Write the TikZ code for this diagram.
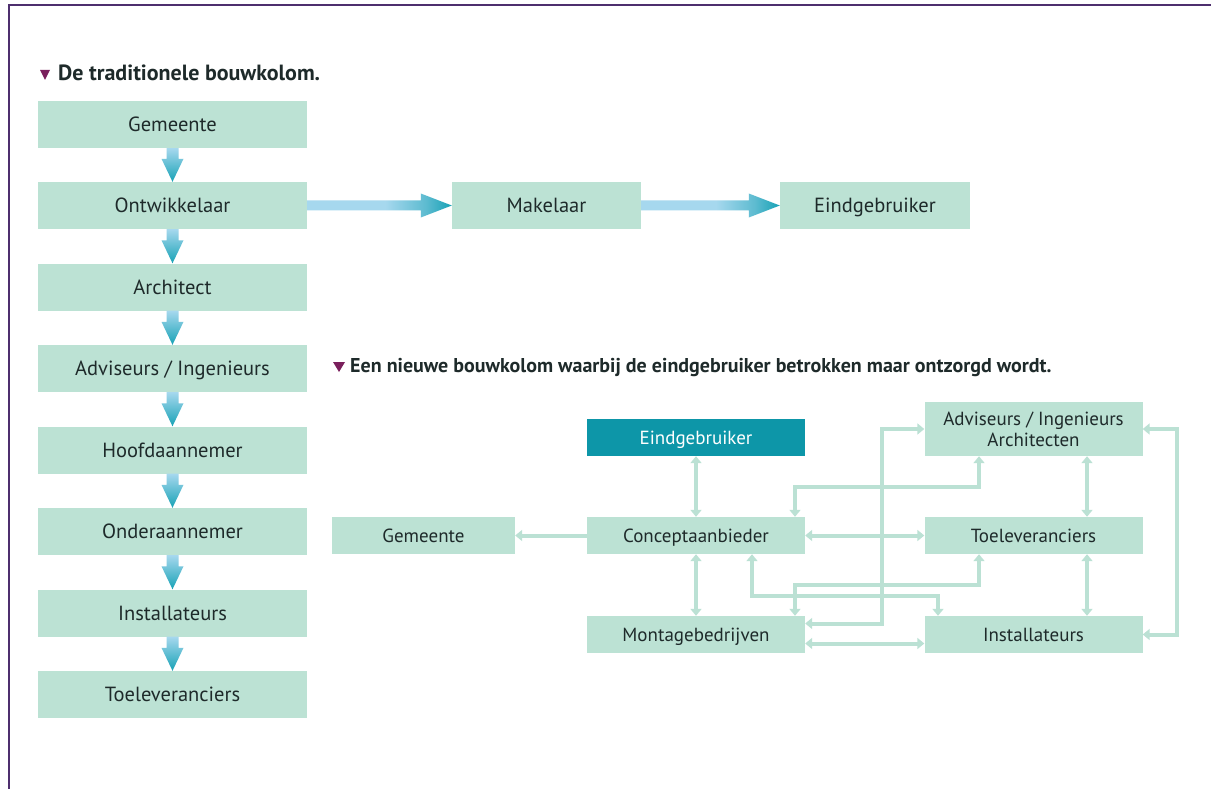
\documentclass[tikz,border=0pt]{standalone}
\usepackage{fontspec}
\setmainfont{PT Sans}
\usetikzlibrary{arrows.meta,calc}
\definecolor{boxfill}{HTML}{BCE2D4}
\definecolor{linec}{HTML}{BBE1D4}
\definecolor{darkbox}{HTML}{0D96A8}
\definecolor{txt}{HTML}{1E2A2A}
\definecolor{framec}{HTML}{4E2F6E}
\definecolor{tri}{HTML}{7A1F5C}
\definecolor{gl}{HTML}{A6D8EE}
\definecolor{gm}{HTML}{5DBBD0}
\definecolor{gd}{HTML}{17A2B6}
\pgfdeclarehorizontalshading{harrow}{100bp}{color(0bp)=(gl); color(25bp)=(gl); color(52bp)=(gl); color(66bp)=(gm); color(75bp)=(gd); color(100bp)=(gd)}
\newcommand\myvarrow[2]{\shade[top color=gl, bottom color=gd] ($(#1.south)+(-6,0)$) -- ($(#1.south)+(6,0)$) -- ($(#2.north)+(6,-23)$) -- ($(#2.north)+(11,-23)$) -- (#2.north) -- ($(#2.north)+(-11,-23)$) -- ($(#2.north)+(-6,-23)$) -- cycle;}
\newcommand\myharrow[2]{\shade[shading=harrow] ($(#1.east)+(0,-5)$) -- ($(#2.west)+(-31,-5)$) -- ($(#2.west)+(-31,-12)$) -- (#2.west) -- ($(#2.west)+(-31,12)$) -- ($(#2.west)+(-31,5)$) -- ($(#1.east)+(0,5)$) -- cycle;}
\begin{document}
\begin{tikzpicture}[x=1pt,y=-1pt,
  lbox/.style={fill=boxfill, minimum width=269pt, minimum height=47pt, inner sep=0pt, text=txt, font=\fontsize{20.5}{24}\selectfont, text height=14.4pt, text depth=0pt},
  rbox/.style={fill=boxfill, minimum width=218pt, minimum height=37pt, inner sep=0pt, text=txt, font=\fontsize{19}{22}\selectfont, text height=13.3pt, text depth=0pt},
  conn/.style={draw=linec, line width=4pt, arrows={-Triangle[width=11pt,length=7pt]}},
  biconn/.style={draw=linec, line width=4pt, arrows={Triangle[width=11pt,length=7pt]-Triangle[width=11pt,length=7pt]}},
  head/.style={anchor=base west, text=txt, font=\bfseries\fontsize{20}{24}\selectfont, inner sep=0pt},
]
\useasboundingbox (0,0) rectangle (1211,789);
\fill[white] (0,0) rectangle (1211,789);
\draw[framec, line width=2.5pt] (9,789) -- (9,5) -- (1211,5);

% headings
\fill[tri] (40,70) -- (50,70) -- (45,80) -- cycle;
\node[head, font=\bfseries\fontsize{22}{26}\selectfont] (h1) at (58,81) {De traditionele bouwkolom.};
\fill[tri] (333,362) -- (345,362) -- (339,372) -- cycle;
\node[head] (h2) at (350,372) {Een nieuwe bouwkolom waarbij de eindgebruiker betrokken maar ontzorgd wordt.};

% traditional column
\node[lbox] (l1) at (172.5,124.5) {Gemeente};
\node[lbox] (l2) at (172.5,205.5) {Ontwikkelaar};
\node[lbox] (l3) at (172.5,287) {Architect};
\node[lbox] (l4) at (172.5,368.5) {Adviseurs / Ingenieurs};
\node[lbox] (l5) at (172.5,450) {Hoofdaannemer};
\node[lbox] (l6) at (172.5,531.5) {Onderaannemer};
\node[lbox] (l7) at (172.5,613) {Installateurs};
\node[lbox] (l8) at (172.5,694.5) {Toeleveranciers};
\node[lbox, minimum width=189pt] (mak) at (546.5,205.5) {Makelaar};
\node[lbox, minimum width=190pt] (eind) at (875,205.5) {Eindgebruiker};

\myvarrow{l1}{l2}
\myvarrow{l2}{l3}
\myvarrow{l3}{l4}
\myvarrow{l4}{l5}
\myvarrow{l5}{l6}
\myvarrow{l6}{l7}
\myvarrow{l7}{l8}
\myharrow{l2}{mak}
\myharrow{mak}{eind}

% new column
\node[rbox, fill=darkbox, text=white] (re) at (696,437.5) {Eindgebruiker};
\node[rbox] (rc) at (696,535.5) {Conceptaanbieder};
\node[rbox] (rm) at (696,634.5) {Montagebedrijven};
\node[rbox, minimum height=54pt, align=center, text height=, text depth=, font=\fontsize{19}{21}\selectfont] (ra) at (1033.5,429) {Adviseurs / Ingenieurs\\Architecten};
\node[rbox] (rt) at (1033.5,535.5) {Toeleveranciers};
\node[rbox] (ri) at (1033.5,634.5) {Installateurs};
\node[rbox, minimum width=183pt] (rg) at (423.5,535.5) {Gemeente};

\draw[biconn] (re.south) -- (rc.north);
\draw[conn] (rc.west) -- (rg.east);
\draw[biconn] (rc.east) -- (rt.west);
\draw[biconn] (rc.south) -- (rm.north);
\draw[biconn] ($(rm.east)+(0,9)$) -- ($(ri.west)+(0,9)$);
\draw[biconn] ($(ra.south)+(53.5,0)$) -- ($(rt.north)+(53.5,0)$);
\draw[biconn] ($(rt.south)+(53.5,0)$) -- ($(ri.north)+(53.5,0)$);
\draw[biconn] (ra.east) -- ++(34,0) |- (ri.east);
\draw[biconn] ($(rc.north)+(99,0)$) |- ($(ra.south)+(-54.5,31)$) -- ($(ra.south)+(-54.5,0)$);
\draw[biconn] ($(rm.east)+(0,-11)$) -| ($(ra.west)+(-42,0)$) -- (ra.west);
\draw[biconn] ($(rc.south)+(56,0)$) |- ($(ri.north)+(-95.5,-20)$) -- ($(ri.north)+(-95.5,0)$);
\draw[biconn] ($(rm.north)+(99,0)$) |- ($(rt.south)+(-54.5,31)$) -- ($(rt.south)+(-54.5,0)$);
\end{tikzpicture}
\end{document}
